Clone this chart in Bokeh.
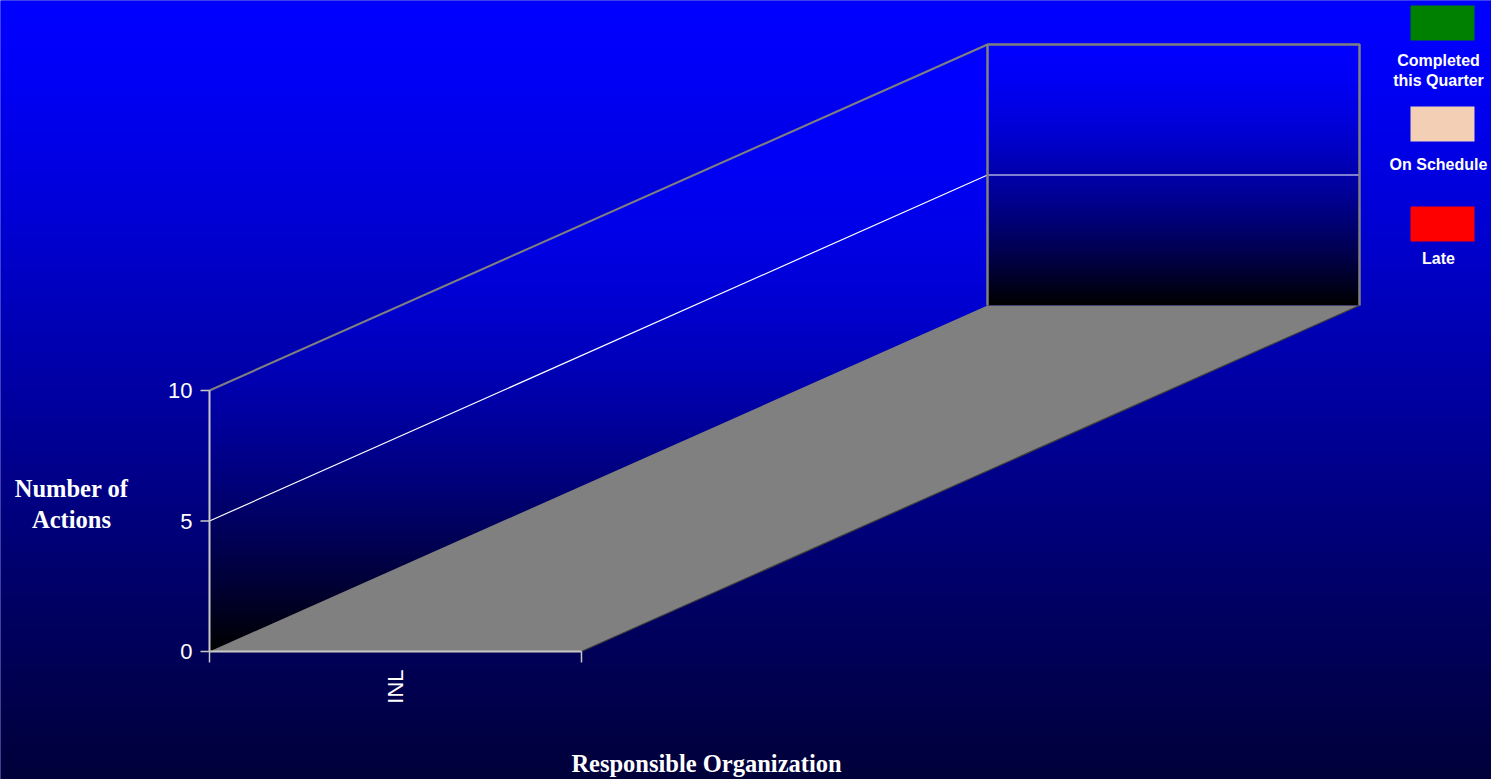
import numpy as np
from bokeh.plotting import figure
from bokeh.models import Range1d
from bokeh.core.properties import value
from bokeh.embed import file_html
from bokeh.resources import INLINE

# ---------------- data ----------------
categories = ["INL"]
completed_this_quarter = [0]
on_schedule = [0]
late = [0]
series_values = [completed_this_quarter, on_schedule, late]
series_colors = ["#008000", "#F3CFB5", "#FF0000"]
legend_labels = [["Completed", "this Quarter"], ["On Schedule"], ["Late"]]
y_ticks = [0, 5, 10]
y_max = 10
y_title_lines = ["Number of", "Actions"]
x_title = "Responsible Organization"

# ---------------- layout (pixels) ----------------
W, H = 1491, 779
X0, Y0 = 209, 651          # front-left corner of the floor
BAND = 372                 # width of one category band
UNIT = 26.1                # pixels per action
DX, DY = 778, -346         # depth offset (screen px, y downwards)

def proj(c, v, d):
    """category position c (0..n), value v, depth d (0..1) -> data coords (y up)."""
    px = X0 + c * BAND + d * DX
    py = Y0 - v * UNIT + d * DY
    return px, H - py

def pack(r, g, b, a):
    img = np.zeros(r.shape + (4,), dtype=np.uint8)
    img[..., 0] = r
    img[..., 1] = g
    img[..., 2] = b
    img[..., 3] = a
    return np.flipud(img).copy().view(np.uint32).reshape(r.shape)

p = figure(width=W, height=H, x_range=Range1d(0, W), y_range=Range1d(0, H),
           output_backend="svg", toolbar_location=None, min_border=0)
p.axis.visible = False
p.grid.visible = False
p.outline_line_color = None
p.background_fill_color = "#0000C0"
p.border_fill_color = "#0000C0"

# ---------------- background gradient ----------------
pad = 6
ys = np.arange(H + 2 * pad) - pad + 0.5
stops_y = [0, 60, 200, 400, 600, 779]
stops_b = [255, 250, 218, 160, 100, 58]
bb = np.interp(ys, stops_y, stops_b)
B = np.repeat(bb[:, None], 4, axis=1)
Z = np.zeros_like(B)
p.image_rgba(image=[pack(Z, Z, B, Z + 255)], x=-pad, y=-pad, dw=W + 2 * pad, dh=H + 2 * pad)

n = len(categories)
# ---------------- left wall (gradient) ----------------
lx0, _ = proj(0, 0, 0)
lx1, _ = proj(0, 0, 1)
top_py = Y0 - y_max * UNIT + DY
wl_w = int(round(lx1 - lx0))
wl_h = int(round(Y0 - top_py))
xx, yy = np.meshgrid(lx0 + np.arange(wl_w) + 0.5, top_py + np.arange(wl_h) + 0.5)
d = (xx - X0) / DX
t_edge = Y0 - y_max * UNIT + d * DY
b_edge = Y0 + d * DY
inside = (yy >= t_edge - 0.5) & (yy <= b_edge + 1.5)
f = np.clip((yy - top_py) / (Y0 - top_py), 0, 1)
blue = 255 * (1 - f ** 2)
Z = np.zeros_like(blue)
p.image_rgba(image=[pack(Z, Z, blue, np.where(inside, 255, 0))],
             x=lx0, y=H - Y0, dw=wl_w, dh=wl_h)

# ---------------- back wall (gradient) ----------------
bx0, by0 = proj(0, 0, 1)
bx1, by1 = proj(n, y_max, 1)
bw_h = int(round(by1 - by0))
fy = (np.arange(bw_h) + 0.5) / bw_h
bblue = 255 * (1 - fy ** 1.6)
Bw = np.repeat(bblue[:, None], 4, axis=1)
Z = np.zeros_like(Bw)
p.image_rgba(image=[pack(Z, Z, Bw, Z + 255)], x=bx0, y=by0, dw=bx1 - bx0, dh=bw_h)

# ---------------- floor ----------------
fl = [proj(0, 0, 0), proj(n, 0, 0), proj(n, 0, 1), proj(0, 0, 1)]
p.patch([q[0] for q in fl], [q[1] for q in fl], fill_color="#808080", line_color=None)
a, b2 = proj(n, 0, 0), proj(n, 0, 1)
p.line([a[0], b2[0]], [a[1], b2[1]], line_color="#3c3c3c", line_width=1.2)

# ---------------- gridlines ----------------
for v in y_ticks:
    if v in (0, y_max):
        continue
    pts = [proj(0, v, 0), proj(0, v, 1), proj(n, v, 1)]
    p.line([q[0] for q in pts], [q[1] for q in pts], line_color="white", line_width=1.2)

# ---------------- wall borders ----------------
pts = [proj(0, y_max, 0), proj(0, y_max, 1)]
p.line([q[0] for q in pts], [q[1] for q in pts], line_color="#808080", line_width=2)
pts = [proj(0, 0, 1), proj(0, y_max, 1), proj(n, y_max, 1), proj(n, 0, 1)]
p.line([q[0] for q in pts], [q[1] for q in pts], line_color="#808080", line_width=2.5)

# ---------------- bars (stacked, zero in this chart) ----------------
for i, cat in enumerate(categories):
    base = 0
    for vals, col in zip(series_values, series_colors):
        v = vals[i]
        if v > 0:
            c0, c1 = i + 0.2, i + 0.8
            l, bt = proj(c0, base, 0.3)
            r, tp = proj(c1, base + v, 0.3)
            p.quad(left=l, right=r, bottom=bt, top=tp, fill_color=col, line_color="black")
        base += v

# ---------------- axes ----------------
ax_col = "#C8C8C8"
pa, pb = proj(0, 0, 0), proj(0, y_max, 0)
p.line([pa[0], pb[0]], [pa[1], pb[1]], line_color=ax_col, line_width=2)
pc = proj(n, 0, 0)
p.line([pa[0], pc[0]], [pa[1], pc[1]], line_color=ax_col, line_width=2)
for v in y_ticks:
    tx, ty = proj(0, v, 0)
    p.segment(x0=[tx - 9], y0=[ty], x1=[tx], y1=[ty], line_color=ax_col, line_width=1.5)
    p.text(x=[tx - 17], y=[ty], text=[str(v)], text_color="white",
           text_font=value("Liberation Sans"), text_font_size="22px",
           text_align="right", text_baseline="middle")
for k in range(n + 1):
    tx, ty = proj(k, 0, 0)
    p.segment(x0=[tx], y0=[ty], x1=[tx], y1=[ty - 11], line_color=ax_col, line_width=1.5)
for i, cat in enumerate(categories):
    tx, ty = proj(i + 0.5, 0, 0)
    p.text(x=[tx], y=[ty - 18], text=[cat], angle=np.pi / 2, text_color="white",
           text_font=value("Liberation Sans"), text_font_size="22px",
           text_align="right", text_baseline="middle")

# ---------------- titles ----------------
for j, line in enumerate(y_title_lines):
    p.text(x=[71], y=[H - 488 - 31 * j], text=[line], text_color="white",
           text_font=value("Liberation Serif"), text_font_style="bold",
           text_font_size="24.5px", text_align="center", text_baseline="middle")
p.text(x=[706], y=[H - 763], text=[x_title], text_color="white",
       text_font=value("Liberation Serif"), text_font_style="bold",
       text_font_size="24.5px", text_align="center", text_baseline="middle")

# ---------------- legend ----------------
sw_tops = [5, 106, 206]
label_y = [60, 164, 258]
for k, (lab, col) in enumerate(zip(legend_labels, series_colors)):
    t = sw_tops[k]
    p.quad(left=1410, right=1474, top=H - t, bottom=H - t - 35,
           fill_color=col, line_color=None)
    for j, s in enumerate(lab):
        p.text(x=[1438], y=[H - (label_y[k] + 20 * j)], text=[s], text_color="white",
               text_font=value("Liberation Sans"), text_font_style="bold",
               text_font_size="16px", text_align="center", text_baseline="middle")

open("out.html", "w").write(file_html(p, INLINE))
